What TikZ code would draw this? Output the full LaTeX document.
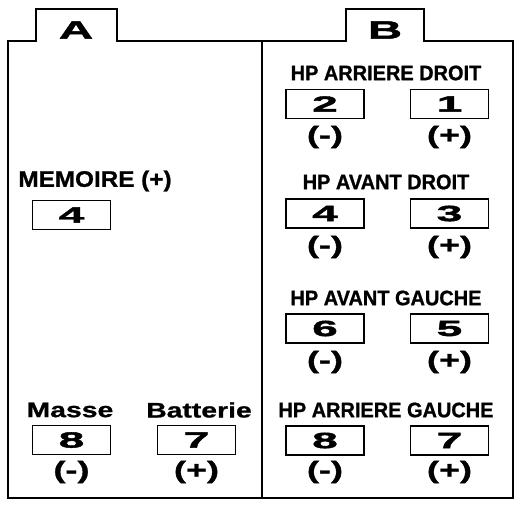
\documentclass[tikz,border=0pt]{standalone}
\usepackage{fontspec}
\setmainfont{Liberation Sans}
\newfontfamily\pinfont[FakeStretch=2.1, FakeBold=2]{Liberation Sans}
\newfontfamily\tabfont[FakeStretch=1.9, FakeBold=2]{Liberation Sans}
\newfontfamily\signfont[FakeStretch=1.5, FakeBold=1.5]{Liberation Sans}
\newfontfamily\namefont[FakeStretch=1.35, FakeBold=1]{Liberation Sans}
\newfontfamily\headfont[FakeStretch=0.95, FakeBold=1]{Liberation Sans}
\newfontfamily\memfont[FakeStretch=1.08, FakeBold=1]{Liberation Sans}
\usepackage{tikz}
\usetikzlibrary{positioning}

\begin{document}
\begin{tikzpicture}[x=1pt, y=-1pt]
\tikzstyle{pinbox} = [rectangle, draw, line width=1.6pt, minimum width=78pt, minimum height=29pt, inner sep=0pt, font=\pinfont\bfseries\fontsize{22}{22}\selectfont]
\tikzstyle{sign} = [inner sep=0pt, font=\signfont\bfseries\fontsize{24}{24}\selectfont]
\tikzstyle{hphead} = [inner sep=0pt, font=\headfont\bfseries\fontsize{21}{21}\selectfont]
\tikzstyle{tabtext} = [inner sep=0pt, font=\tabfont\bfseries\fontsize{25}{25}\selectfont]
\tikzstyle{outline} = [line width=1.8pt, line join=miter]

\useasboundingbox (0,0) rectangle (520,504);

% housing with the two tabs
\draw [outline] (8,498) -- (8,41) -- (36,41) -- (36,9) -- (117,9) -- (117,41)
  -- (346,41) -- (346,9) -- (424,9) -- (424,41) -- (513,41) -- (513,498) -- cycle;
\draw [outline] (262,41) -- (262,498);

\node (tabA) [tabtext] at (76,30) {A};
\node (tabB) [tabtext] at (385,30) {B};

% connector A
\node (memo) [inner sep=0pt, font=\memfont\bfseries\fontsize{22.5}{22}\selectfont] at (95,181) {MEMOIRE (+)};
\node (a4) [pinbox] at (71.5,215) {4};

\node (masse) [inner sep=0pt, font=\namefont\bfseries\fontsize{21}{21}\selectfont] at (70,410) {Masse};
\node (batt) [inner sep=0pt, font=\namefont\bfseries\fontsize{21}{21}\selectfont] at (199,410) {Batterie};
\node (a8) [pinbox] at (71.5,440) {8};
\node (a7) [pinbox] at (196.5,440) {7};
\node (a8s) [sign] at (71.5,472) {(-)};
\node (a7s) [sign] at (196.5,472) {(+)};

% connector B
\node (hpard) [hphead] at (386,73) {HP ARRIERE DROIT};
\node (b2) [pinbox] at (325,104) {2};
\node (b1) [pinbox] at (449.5,104) {1};
\node (b2s) [sign] at (325,137) {(-)};
\node (b1s) [sign] at (449.5,137) {(+)};

\node (hpavd) [hphead] at (386,182) {HP AVANT DROIT};
\node (b4) [pinbox] at (325,213.5) {4};
\node (b3) [pinbox] at (449.5,213.5) {3};
\node (b4s) [sign] at (325,247) {(-)};
\node (b3s) [sign] at (449.5,247) {(+)};

\node (hpavg) [hphead] at (386,298) {HP AVANT GAUCHE};
\node (b6) [pinbox] at (325,328.5) {6};
\node (b5) [pinbox] at (449.5,328.5) {5};
\node (b6s) [sign] at (325,362) {(-)};
\node (b5s) [sign] at (449.5,362) {(+)};

\node (hparg) [hphead] at (386,410) {HP ARRIERE GAUCHE};
\node (b8) [pinbox] at (325,440.5) {8};
\node (b7) [pinbox] at (449.5,440.5) {7};
\node (b8s) [sign] at (325,472) {(-)};
\node (b7s) [sign] at (449.5,472) {(+)};

\end{tikzpicture}
\end{document}
